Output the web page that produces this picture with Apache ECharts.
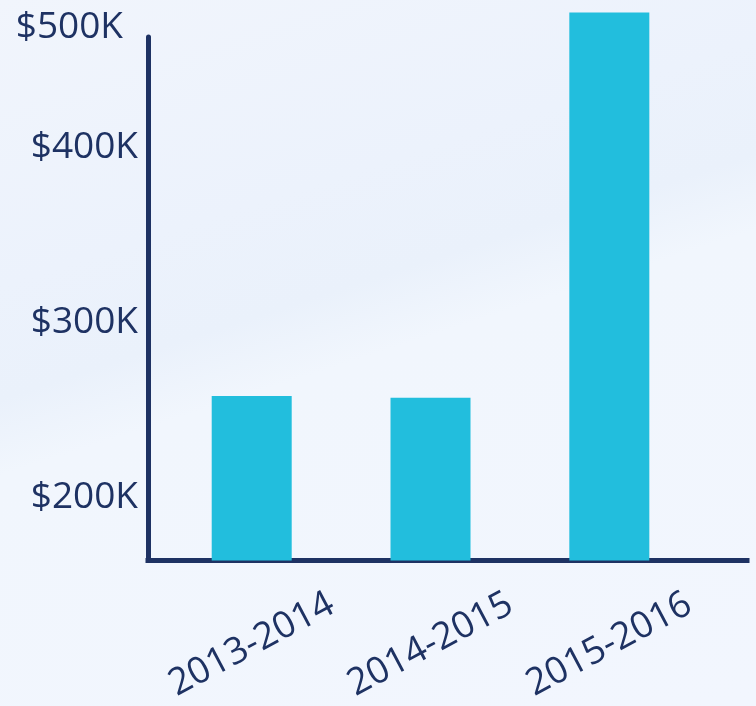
<!DOCTYPE html>
<html>
<head>
<meta charset="utf-8">
<script src="https://cdn.jsdelivr.net/npm/echarts@6/dist/echarts.min.js"></script>
<style>
  html, body { margin: 0; padding: 0; }
  body {
    width: 756px; height: 706px; overflow: hidden;
    background: linear-gradient(162deg, #f1f5fc 0%, #ecf2fc 30%, #eaf1fb 42%, #f1f6fd 50%, #f2f6fe 100%);
  }
  #chart { width: 756px; height: 706px; }
</style>
</head>
<body>
<div id="chart"></div>
<script>
// fiscal years and revenue (thousands of $)
const categories = ['2013-2014', '2014-2015', '2015-2016'];
const revenue = [258, 257, 477];
const yTicks = [200, 300, 400];
const topLabel = '$500K';

const navy = '#1e3263';
const chart = echarts.init(document.getElementById('chart'));

const option = {
  backgroundColor: 'transparent',
  textStyle: { fontFamily: 'Open Sans' },
  grid: { left: 148, right: 9, top: 37, bottom: 145.5 },
  xAxis: {
    type: 'value',
    min: -0.58,
    max: 2.77,
    splitLine: { show: false },
    axisTick: { show: false },
    axisLine: { show: true, onZero: false, lineStyle: { color: navy, width: 5, cap: 'square' } },
    axisLabel: {
      customValues: [0, 1, 2],
      formatter: (v) => categories[Math.round(v)],
      rotate: 28,
      align: 'center',
      verticalAlign: 'middle',
      margin: 84,
      fontSize: 37,
      color: navy,
      fontFamily: 'Open Sans'
    }
  },
  yAxis: {
    type: 'value',
    min: 164,
    max: 463,
    startValue: 164,
    name: topLabel,
    nameLocation: 'end',
    nameGap: 10,
    nameTextStyle: {
      fontSize: 37, color: navy, fontFamily: 'Open Sans',
      align: 'right', verticalAlign: 'middle', padding: [0, 25, 0, 0]
    },
    splitLine: { show: false },
    axisTick: { show: false },
    axisLine: { show: true, onZero: false, lineStyle: { color: navy, width: 5 } },
    axisLabel: {
      customValues: yTicks,
      formatter: (v) => '$' + v + 'K',
      margin: 10,
      fontSize: 37,
      color: navy,
      fontFamily: 'Open Sans'
    }
  },
  series: [{
    type: 'bar',
    clip: false,
    barWidth: 80,
    itemStyle: { color: '#22bedd' },
    data: revenue.map((v, i) => [i, v]),
    z: 1
  }]
};
chart.setOption(option);
</script>
</body>
</html>
